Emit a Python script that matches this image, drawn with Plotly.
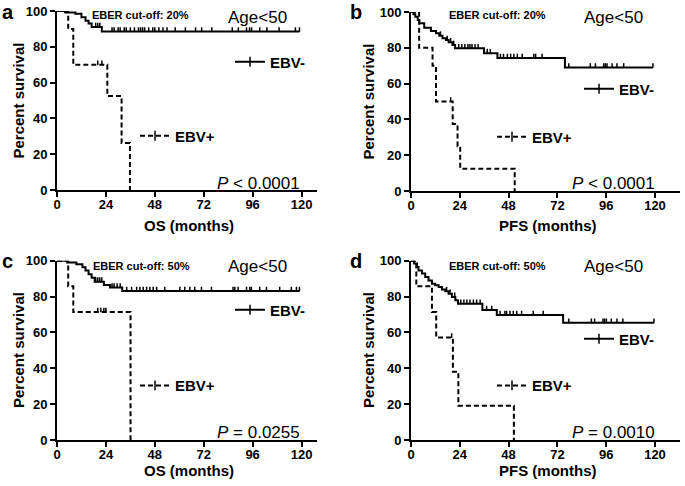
import numpy as np
import plotly.graph_objects as go

W, H = 685, 486
FONT = "Liberation Sans, Arial, Helvetica, sans-serif"

# ---------------- data ----------------
# Panel a : OS, EBER cut-off 20%
a_neg_t = [0, 4, 9, 12, 14, 15.5, 17, 22]
a_neg_s = [100, 99.2, 98.4, 96.5, 94.5, 93, 91, 88.5]
a_neg_end = 119
a_neg_cens = [19, 20, 21, 27, 28, 30, 31, 33, 34, 36, 38, 40, 41, 42, 43, 45, 47, 48, 50, 52, 54,
              58, 63, 68, 71, 76, 86, 89, 93, 94.5, 95.5, 99.5, 103, 109, 117, 119]
a_pos_t = [0, 5.5, 8, 24.7, 31.7, 35.8]
a_pos_s = [100, 90, 70, 52.5, 26.25, 0]
a_pos_cens = [20, 22]

# Panel b : PFS, EBER cut-off 20%
b_neg_t = [0, 1.2, 2.1, 3.3, 4.1, 6.5, 9.8, 12.3, 13.9, 15.5, 17.2, 18.5, 20.4, 21.7, 35.9, 42.5, 75.7]
b_neg_s = [100, 98.7, 97.4, 95.5, 93.7, 91.2, 89.4, 88.1, 86.8, 85.3, 84.4, 83.1, 81.6, 79.7, 77.0, 74.3, 69.0]
b_neg_end = 119
b_neg_cens = [14.5, 17.8, 19.5, 21, 23.5, 25, 26.5, 28, 29, 30, 31.5, 33, 37.5, 39, 44, 45.5, 47.4, 49,
              50.6, 52.3, 54.7, 60.4, 61.3, 64.5, 77.6, 88.2, 90.7, 94.8, 95.6, 96.4, 98.9, 101.3, 104.6, 119]
b_pos_t = [0, 4, 10.6, 12.3, 20.5, 22.9, 24.2, 51]
b_pos_s = [100, 80, 70, 50, 37.5, 25, 12.5, 0]
b_pos_cens = [19.5]

# Panel c : OS, EBER cut-off 50%
c_neg_t = [0, 5, 9.5, 12.5, 14, 15.5, 17, 18.5, 23, 26, 32]
c_neg_s = [100, 99, 98, 96.3, 94.5, 92.5, 90.5, 88.3, 86.5, 85, 83.1]
c_neg_end = 119
c_neg_cens = [19, 20, 21, 22, 27, 28, 29.5, 31, 34.2, 36.6, 39.1, 40.7, 42.3, 44, 45.6, 47.2, 48.9, 52.9,
              60.3, 62.7, 65.2, 67.6, 70.9, 75.8, 86.4, 87.3, 88.9, 93, 94.6, 95.4, 99.5, 102.8, 109.3,
              115, 117.5, 119]
c_pos_t = [0, 5.5, 8, 36.1]
c_pos_s = [100, 85.7, 71.4, 0]
c_pos_cens = [20, 21.5, 23, 24]

# Panel d : PFS, EBER cut-off 50%
d_neg_t = [0, 1.5, 2.9, 3.7, 5.4, 7.0, 8.6, 10.3, 11.9, 13.6, 15.2, 16.9, 18.5, 20.1, 21.8, 23.1, 35.1, 42.2, 74.8]
d_neg_s = [100, 98.4, 96.5, 94.6, 92.8, 90.9, 89.0, 87.2, 86.3, 85.3, 84.0, 82.9, 81.6, 79.8, 77.9, 76.0, 72.5, 69.7, 65.4]
d_neg_end = 119.5
d_neg_cens = [17.5, 19.2, 21.5, 24.5, 26, 27.5, 29, 30.7, 32.3, 34, 37.2, 39.7, 43.8, 46.2, 47, 48.7, 50.3,
              52, 54.4, 60.1, 65, 77.6, 88.7, 90.3, 94.4, 95.2, 96.1, 98.5, 101.3, 104.2, 119.5]
d_pos_t = [0, 2.6, 10.3, 12.4, 20.6, 23.3, 50.6]
d_pos_s = [100, 85.7, 71.4, 57.1, 38.1, 19.05, 0]
d_pos_cens = [20]

x_ticks = [0, 24, 48, 72, 96, 120]
y_ticks = [0, 20, 40, 60, 80, 100]
panel_letters = ["a", "b", "c", "d"]
x_titles = ["OS (months)", "PFS (months)", "OS (months)", "PFS (months)"]
cutoff_labels = ["EBER cut-off: 20%", "EBER cut-off: 20%", "EBER cut-off: 50%", "EBER cut-off: 50%"]
p_labels = ["<i>P</i> &lt; 0.0001", "<i>P</i> &lt; 0.0001", "<i>P</i> = 0.0255", "<i>P</i> = 0.0010"]
group_names = ["EBV-", "EBV+"]

# ---------------- layout geometry (pixels) ----------------
boxes = [
    (57, 317, 11, 190, 127.6),
    (411, 680, 12, 191, 132.3),
    (57, 317, 260.7, 440, 127.6),
    (411, 680, 260.7, 440, 132.3),
]
leg_pos = [
    ((238, 62), (143, 136)),
    ((587, 89), (500, 137)),
    ((238, 310), (143, 385.7)),
    ((587, 339), (500, 385.7)),
]
letter_pos = [(7.5, 12), (355.5, 12), (7.5, 261), (355.5, 261)]
cut_pos = [(140, 15), (497, 15.5), (141, 266), (497, 266)]
age_pos = [(257, 17), (613, 17), (257, 266.5), (613, 266.5)]
p_pos = [(302, 183), (657, 183), (302, 432), (657, 432.5)]
ytitle_pos = [(18, 100.5), (368, 101.5), (18, 350), (368, 350)]
xtitle_pos = [(189, 225), (548, 225), (189, 470), (548, 470)]

panels = [
    (a_neg_t, a_neg_s, a_neg_end, a_neg_cens, a_pos_t, a_pos_s, a_pos_cens),
    (b_neg_t, b_neg_s, b_neg_end, b_neg_cens, b_pos_t, b_pos_s, b_pos_cens),
    (c_neg_t, c_neg_s, c_neg_end, c_neg_cens, c_pos_t, c_pos_s, c_pos_cens),
    (d_neg_t, d_neg_s, d_neg_end, d_neg_cens, d_pos_t, d_pos_s, d_pos_cens),
]


def px_x(p):
    return p / W


def px_y(p):
    return 1 - p / H


def step_at(t, s, x):
    idx = np.searchsorted(np.asarray(t, float), np.asarray(x, float), side="right") - 1
    return [s[i] for i in idx]


fig = go.Figure()
layout = dict()
annotations = []

DASH = "5px,3px"
TICK_UP = 2.4  # censor tick height in % units
legend_marker = dict(symbol="line-ns", size=7, color="black", line=dict(width=1.5, color="black"))


def censor_trace(xs, ys, xa, ya):
    return go.Scatter(x=xs, y=ys, mode="markers", marker=dict(size=1, color="black"),
                      error_y=dict(type="data", symmetric=False, array=[TICK_UP] * len(xs),
                                   arrayminus=[0] * len(xs), width=0, thickness=1.5, color="black"),
                      xaxis=xa, yaxis=ya, showlegend=False, cliponaxis=False, hoverinfo="skip")


for i, (nt, ns, nend, ncens, pt, ps, pcens) in enumerate(panels):
    k = i + 1
    sfx = "" if k == 1 else str(k)
    xa, ya = "x" + sfx, "y" + sfx
    l, r, top, bot, xmax = boxes[i]

    # EBV- curve
    fig.add_trace(go.Scatter(x=list(nt) + [nend], y=list(ns) + [ns[-1]], mode="lines",
                             line=dict(shape="hv", color="black", width=2),
                             xaxis=xa, yaxis=ya, showlegend=False, cliponaxis=False,
                             hoverinfo="skip"))
    fig.add_trace(censor_trace(ncens, step_at(nt, ns, ncens), xa, ya))
    # EBV+ curve
    fig.add_trace(go.Scatter(x=pt, y=ps, mode="lines",
                             line=dict(shape="hv", color="black", width=2, dash=DASH),
                             xaxis=xa, yaxis=ya, showlegend=False, cliponaxis=False,
                             hoverinfo="skip"))
    fig.add_trace(censor_trace(pcens, step_at(pt, ps, pcens), xa, ya))

    # legend entries (one legend box per entry)
    for j, name in enumerate(group_names):
        lname = "legend" if (2 * i + j) == 0 else "legend%d" % (2 * i + j + 1)
        fig.add_trace(go.Scatter(x=[None], y=[None], mode="lines+markers", name=name,
                                 line=dict(color="black", width=2, dash=None if j == 0 else DASH),
                                 marker=legend_marker, xaxis=xa, yaxis=ya, legend=lname))
        lx, ly = leg_pos[i][j]
        layout[lname] = dict(x=px_x(lx - 8), y=px_y(ly), xanchor="left", yanchor="middle",
                             bgcolor="rgba(0,0,0,0)", borderwidth=0, itemwidth=30,
                             font=dict(family=FONT, size=15, color="black", weight="bold"))

    axis_common = dict(showline=True, linecolor="black", linewidth=2, ticks="outside",
                       ticklen=5, tickwidth=2, tickcolor="black", showgrid=False, zeroline=False,
                       automargin=False,
                       tickfont=dict(family=FONT, size=13, color="black", weight="bold"),
                       fixedrange=True)
    layout["xaxis" + sfx] = dict(axis_common, domain=[px_x(l), px_x(r)], range=[0, xmax],
                                 tickvals=x_ticks, anchor=ya, ticklabelstandoff=-4)
    layout["yaxis" + sfx] = dict(axis_common, domain=[px_y(bot), px_y(top)], range=[0, 100],
                                 tickvals=y_ticks, anchor=xa)

    def ann(text, pos, size, bold=False, xanchor="center", angle=0):
        return dict(text=text, x=px_x(pos[0]), y=px_y(pos[1]), xref="paper", yref="paper",
                    xanchor=xanchor, yanchor="middle", showarrow=False, textangle=angle,
                    font=dict(family=FONT, size=size, color="black",
                              weight="bold" if bold else "normal"))

    annotations.append(ann(panel_letters[i], letter_pos[i], 20, bold=True))
    annotations.append(ann(cutoff_labels[i], cut_pos[i], 11, bold=True))
    annotations.append(ann("Age&lt;50", age_pos[i], 17))
    annotations.append(ann(p_labels[i], p_pos[i], 17, xanchor="right"))
    annotations.append(ann("Percent survival", ytitle_pos[i], 15, bold=True, angle=-90))
    annotations.append(ann(x_titles[i], xtitle_pos[i], 15, bold=True))

fig.update_layout(template="none", width=W, height=H, autosize=False,
                  margin=dict(l=0, r=0, t=0, b=0, pad=0),
                  paper_bgcolor="white", plot_bgcolor="white",
                  annotations=annotations, **layout)

fig.write_html("out.html", config={"displayModeBar": False},
               post_script="document.body.style.margin='0';document.body.style.padding='0';")
